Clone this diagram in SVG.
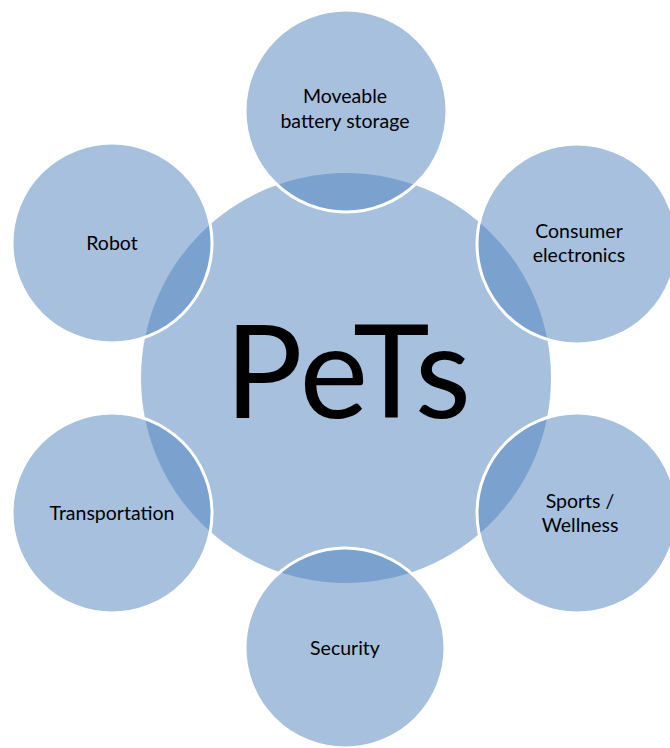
<svg xmlns="http://www.w3.org/2000/svg" width="670" height="748" viewBox="0 0 670 748">
<style>
.hub{fill:#4F81BD;fill-opacity:0.5}
.sat{fill:#4F81BD;fill-opacity:0.5;stroke:#FFFFFF;stroke-width:3}
.lbl{font-family:Lato,"Open Sans",sans-serif;font-size:19.5px;fill:#000;text-anchor:middle}
.big{font-family:Lato,"Open Sans",sans-serif;font-size:130px;fill:#000;text-anchor:middle}
</style>
<rect width="670" height="748" fill="#FFFFFF"/>
<g id="hub">
<circle class="hub" cx="346" cy="378" r="205"/>
<text class="big" x="348" y="418">PeTs</text>
</g>
<g id="connectors"></g>
<g id="moveable">
<circle class="sat" cx="346" cy="111" r="101"/>
<text class="lbl" x="345" y="103">Moveable</text>
<text class="lbl" x="345" y="128">battery storage</text>
</g>
<g id="consumer">
<circle class="sat" cx="577" cy="244" r="100"/>
<text class="lbl" x="579" y="238">Consumer</text>
<text class="lbl" x="579" y="262">electronics</text>
</g>
<g id="sports">
<circle class="sat" cx="577" cy="513" r="100"/>
<text class="lbl" x="580" y="508">Sports /</text>
<text class="lbl" x="580" y="532">Wellness</text>
</g>
<g id="security">
<circle class="sat" cx="345" cy="648" r="100"/>
<text class="lbl" x="345" y="655">Security</text>
</g>
<g id="transportation">
<circle class="sat" cx="112" cy="513" r="100"/>
<text class="lbl" x="112" y="520">Transportation</text>
</g>
<g id="robot">
<circle class="sat" cx="112" cy="243" r="100"/>
<text class="lbl" x="112" y="250">Robot</text>
</g>
</svg>
